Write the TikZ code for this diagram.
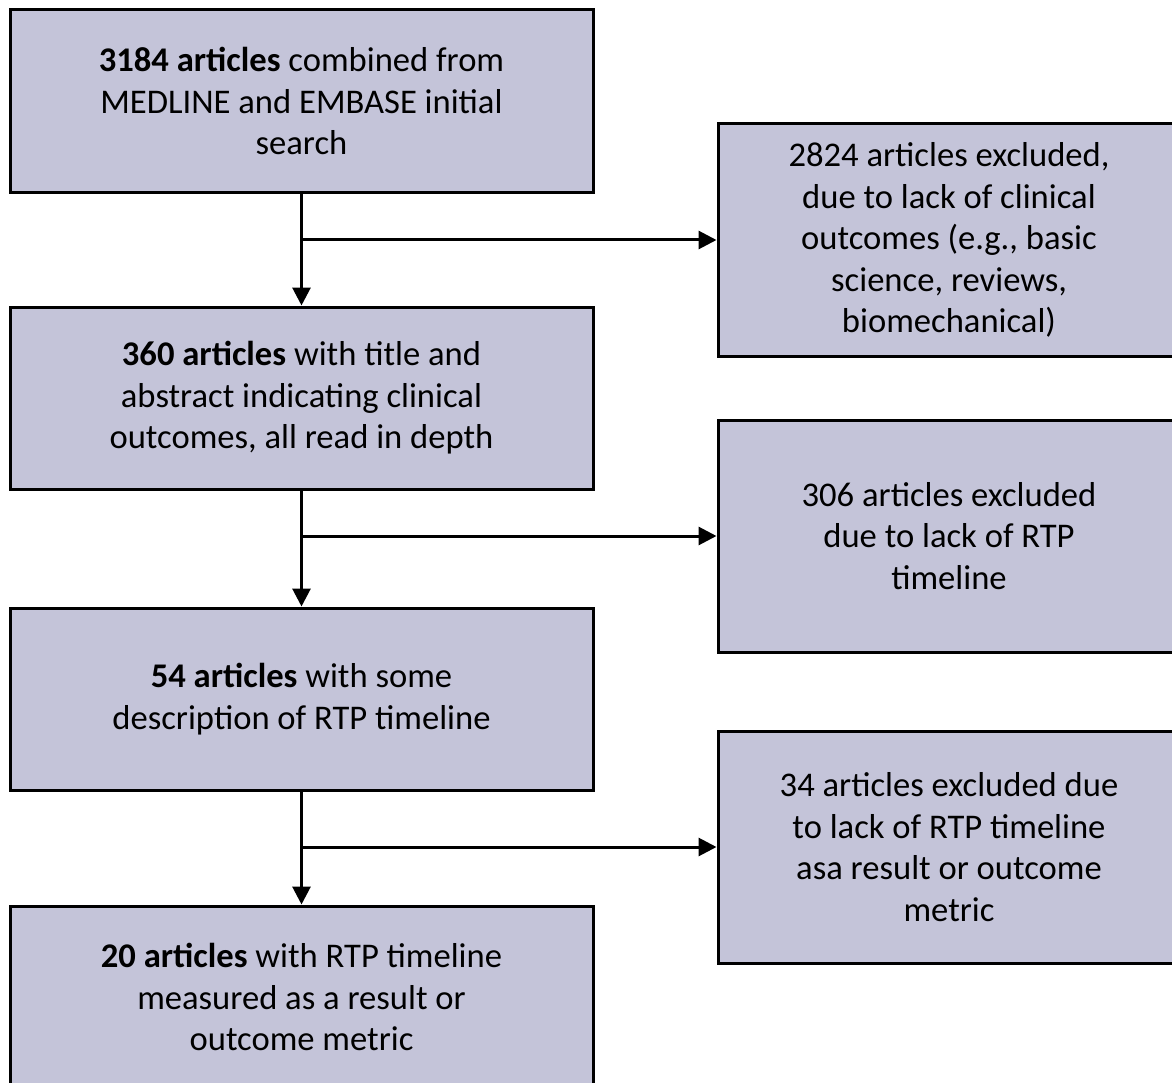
\documentclass[tikz,border=0pt]{standalone}
\usepackage{fontspec}
\setmainfont{Carlito}
\usetikzlibrary{arrows.meta}
\definecolor{boxfill}{HTML}{C4C4D9}
\tikzset{
  stage/.style={draw, line width=3pt, fill=boxfill, align=center, inner sep=0pt,
    minimum width=583pt, minimum height=182pt, font=\fontsize{34.6}{41.5}\selectfont},
  drop/.style={stage, minimum width=462pt, minimum height=232pt},
  flow/.style={line width=3pt, -{Triangle[length=18pt,width=18pt]}}
}
\begin{document}
\begin{tikzpicture}[x=1pt,y=-1pt]
      \useasboundingbox (0,0) rectangle (1172,1083);
      \clip (0,0) rectangle (1172,1083);
      \draw
        (301.5,101) node[stage, minimum height=183pt] (0){\textbf{3184 articles} combined from\\MEDLINE and EMBASE initial\\search}
        (301.5,398) node[stage] (1){\textbf{360 articles} with title and\\abstract indicating clinical\\outcomes, all read in depth}
        (301.5,699) node[stage] (2){\textbf{54 articles} with some\\description of RTP timeline}
        (301.5,997) node[stage] (3){\textbf{20 articles} with RTP timeline\\measured as a result or\\outcome metric}
        (949,240) node[drop] (4){2824 articles excluded,\\due to lack of clinical\\outcomes (e.g., basic\\science, reviews,\\biomechanical)}
        (949,536) node[drop] (5){306 articles excluded\\due to lack of RTP\\timeline}
        (949,847) node[drop] (6){34 articles excluded due\\to lack of RTP timeline\\asa result or outcome\\metric};
      \coordinate (b0) at (301.5,240);
      \coordinate (b1) at (301.5,536);
      \coordinate (b2) at (301.5,847);
      \begin{scope}[flow]
        \draw (0) to (1);
        \draw (1) to (2);
        \draw (2) to (3);
        \draw (b0) to (4.west);
        \draw (b1) to (5.west);
        \draw (b2) to (6.west);
      \end{scope}
    \end{tikzpicture}
\end{document}
